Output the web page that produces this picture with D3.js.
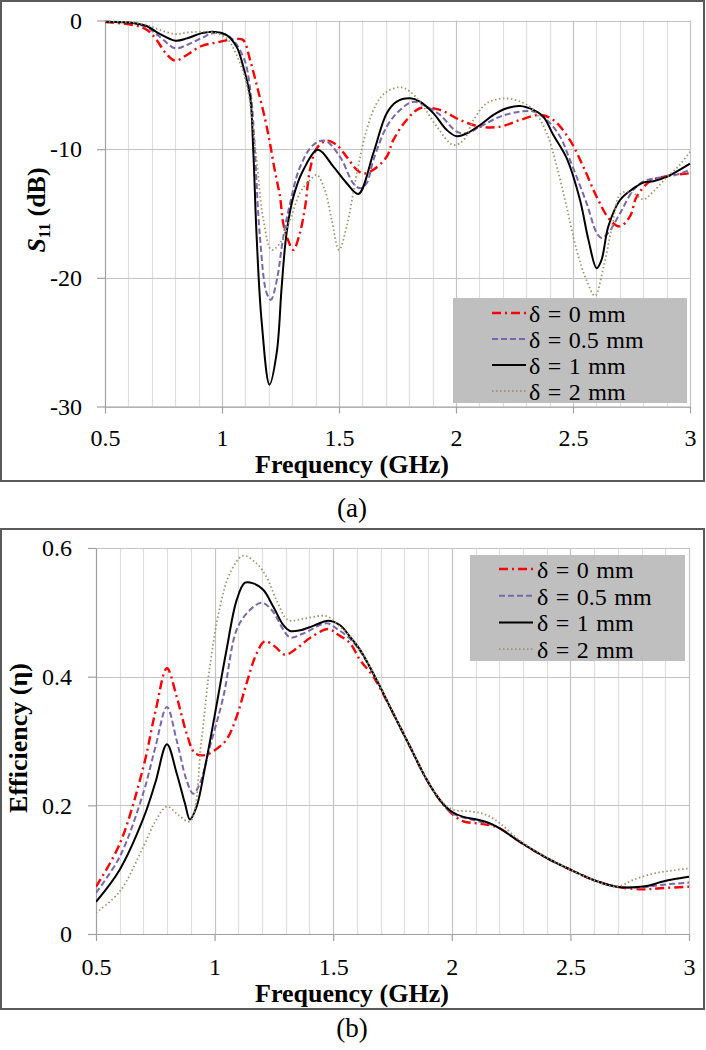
<!DOCTYPE html>
<html><head><meta charset="utf-8">
<script src="https://cdn.jsdelivr.net/npm/d3@7"></script>
<style>
body{margin:0;background:#fff}
svg{display:block}
svg text{font-family:'Liberation Serif','Tinos','Times New Roman','DejaVu Serif',serif !important;fill:#000}
</style>
</head><body>
<svg id="chart" width="706" height="1050"></svg>
<script>
// ---------- DATA ----------
const seriesLabels = ["δ = 0 mm", "δ = 0.5 mm", "δ = 1 mm", "δ = 2 mm"];
const xTickValues = [0.5, 1, 1.5, 2, 2.5, 3];
const xTickLabels = ["0.5", "1", "1.5", "2", "2.5", "3"];
const s11TickValues = [0, -10, -20, -30];
const s11TickLabels = ["0", "-10", "-20", "-30"];
const effTickValues = [0, 0.2, 0.4, 0.6];
const effTickLabels = ["0", "0.2", "0.4", "0.6"];

// (a) S11 (dB)
const s11Freq_d0 = [0.5,0.62,0.68,0.72,0.76,0.80,0.85,0.91,0.98,1.05,1.09,1.12,1.15,1.185,1.205,1.225,1.248,1.262,1.283,1.305,1.333,1.355,1.376,1.405,1.447,1.49,1.533,1.576,1.604,1.647,1.704,1.732,1.789,1.846,1.932,2.017,2.103,2.189,2.274,2.359,2.416,2.487,2.544,2.601,2.658,2.701,2.744,2.772,2.829,2.9,3.0];
const s11_d0 = [-0.12,-0.35,-0.74,-1.5,-2.55,-3.12,-2.68,-2.0,-1.7,-1.46,-1.52,-3.07,-5.14,-7.73,-9.55,-11.6,-13.7,-15.8,-17.1,-17.83,-16.5,-14.5,-11.6,-9.93,-9.34,-9.67,-10.6,-11.6,-11.9,-11.6,-10.58,-9.3,-7.73,-6.82,-6.95,-7.73,-8.25,-8.25,-7.73,-7.34,-7.73,-9.3,-11.36,-13.7,-15.5,-16.0,-15.2,-13.7,-12.5,-12.1,-11.87];

const s11Freq_d05 = [0.5,0.62,0.68,0.73,0.80,0.85,0.91,0.96,1.02,1.06,1.09,1.105,1.127,1.141,1.162,1.191,1.209,1.234,1.262,1.291,1.333,1.39,1.44,1.504,1.561,1.59,1.618,1.647,1.704,1.761,1.818,1.875,1.932,2.003,2.046,2.103,2.189,2.274,2.331,2.388,2.445,2.487,2.558,2.601,2.622,2.651,2.701,2.758,2.801,2.872,2.944,3.0];
const s11_d05 = [-0.1,-0.2,-0.55,-1.2,-2.16,-1.9,-1.39,-1.0,-1.13,-1.8,-2.8,-3.6,-6.4,-10.3,-16.8,-21.2,-21.7,-20.2,-16.8,-14.2,-11.4,-9.67,-9.34,-10.58,-12.65,-13.04,-12.65,-10.84,-8.25,-6.95,-6.31,-6.7,-7.34,-8.64,-8.77,-8.25,-7.47,-7.08,-7.08,-7.73,-9.03,-10.84,-14.2,-16.5,-16.9,-16.5,-14.98,-13.17,-12.5,-12.2,-11.98,-11.6];

const s11Freq_d1 = [0.5,0.62,0.68,0.73,0.80,0.85,0.91,0.96,1.02,1.062,1.091,1.12,1.134,1.148,1.169,1.203,1.234,1.255,1.276,1.305,1.348,1.41,1.476,1.533,1.583,1.647,1.704,1.747,1.804,1.846,1.903,1.96,2.003,2.046,2.103,2.16,2.217,2.274,2.331,2.373,2.416,2.473,2.53,2.566,2.601,2.622,2.651,2.701,2.758,2.801,2.843,2.9,3.0];
const s11_d1 = [-0.1,-0.2,-0.45,-1.0,-1.57,-1.39,-1.0,-0.87,-1.13,-2.03,-3.59,-5.9,-10.3,-16.8,-23.3,-28.3,-25.8,-20.7,-16.5,-13.7,-11.6,-10.05,-11.36,-12.65,-13.48,-10.3,-7.2,-6.3,-6.05,-6.3,-7.2,-8.5,-9.0,-8.77,-8.12,-7.34,-6.82,-6.64,-6.95,-7.47,-8.9,-10.7,-13.95,-17.05,-19.26,-18.6,-16.0,-13.95,-13.05,-12.6,-12.5,-12.16,-11.13];

const s11Freq_d2 = [0.5,0.62,0.68,0.73,0.80,0.85,0.91,0.96,1.02,1.062,1.1,1.12,1.148,1.177,1.212,1.248,1.291,1.333,1.376,1.405,1.44,1.469,1.5,1.533,1.576,1.618,1.661,1.704,1.761,1.804,1.861,1.918,1.989,2.032,2.075,2.131,2.203,2.274,2.331,2.388,2.431,2.473,2.516,2.558,2.594,2.63,2.666,2.701,2.73,2.765,2.801,2.843,2.9,2.957,3.0];
const s11_d2 = [-0.08,-0.15,-0.35,-0.7,-1.05,-0.94,-0.87,-0.92,-1.39,-2.68,-4.6,-6.44,-10.84,-15.5,-17.83,-17.3,-15.5,-13.4,-12.4,-12.0,-13.2,-15.5,-17.83,-16.0,-11.9,-8.5,-6.44,-5.53,-5.19,-5.53,-6.7,-8.25,-9.67,-9.3,-7.73,-6.44,-6.05,-6.3,-6.95,-8.77,-11.36,-14.5,-17.87,-20.2,-21.4,-19.2,-16.1,-13.5,-13.3,-13.5,-13.9,-13.3,-12.2,-11.2,-10.2];

// (b) Efficiency
const effFreq_d0 = [0.5,0.6,0.7,0.75,0.799,0.84,0.882,0.917,0.96,1.002,1.05,1.093,1.135,1.177,1.212,1.254,1.297,1.346,1.402,1.479,1.521,1.571,1.613,1.669,1.753,1.824,1.894,1.95,2.0,2.049,2.105,2.161,2.203,2.288,2.401,2.5,2.597,2.695,2.807,2.878,3.0];
const eff_d0 = [0.0735,0.14,0.26,0.345,0.413,0.369,0.312,0.281,0.278,0.286,0.302,0.338,0.39,0.436,0.455,0.447,0.434,0.444,0.46,0.474,0.465,0.452,0.426,0.40,0.343,0.291,0.24,0.208,0.187,0.175,0.172,0.169,0.164,0.143,0.118,0.1,0.084,0.0735,0.0694,0.0711,0.0736];

const effFreq_d05 = [0.5,0.6,0.7,0.75,0.799,0.84,0.882,0.91,0.938,0.98,1.037,1.093,1.142,1.198,1.24,1.29,1.318,1.374,1.472,1.521,1.571,1.613,1.683,1.753,1.824,1.894,1.95,2.0,2.105,2.161,2.203,2.288,2.401,2.5,2.597,2.695,2.807,2.878,3.0];
const eff_d05 = [0.064,0.12,0.22,0.29,0.353,0.301,0.239,0.218,0.234,0.291,0.369,0.473,0.501,0.515,0.504,0.473,0.461,0.467,0.483,0.473,0.459,0.44,0.395,0.343,0.291,0.24,0.208,0.188,0.176,0.171,0.164,0.143,0.118,0.1,0.084,0.0735,0.0725,0.0761,0.080];

const effFreq_d1 = [0.5,0.6,0.7,0.75,0.799,0.84,0.875,0.896,0.924,0.96,1.002,1.05,1.093,1.128,1.163,1.205,1.247,1.29,1.318,1.36,1.416,1.479,1.529,1.571,1.613,1.683,1.753,1.824,1.894,1.95,2.0,2.049,2.105,2.161,2.203,2.288,2.401,2.5,2.597,2.695,2.765,2.822,2.878,2.934,3.0];
const eff_d1 = [0.05,0.1,0.18,0.235,0.295,0.25,0.203,0.178,0.198,0.26,0.343,0.441,0.519,0.546,0.545,0.535,0.509,0.48,0.471,0.472,0.479,0.487,0.48,0.462,0.442,0.395,0.343,0.291,0.24,0.208,0.19,0.182,0.178,0.172,0.164,0.143,0.118,0.1,0.084,0.0735,0.0726,0.0745,0.0803,0.085,0.089];

const effFreq_d2 = [0.5,0.6,0.7,0.75,0.799,0.847,0.896,0.945,0.98,1.023,1.065,1.12,1.177,1.219,1.261,1.31,1.374,1.472,1.521,1.571,1.613,1.683,1.753,1.824,1.894,1.95,2.0,2.091,2.147,2.203,2.288,2.401,2.5,2.597,2.695,2.765,2.85,2.934,3.0];
const eff_d2 = [0.033,0.066,0.136,0.175,0.198,0.185,0.175,0.302,0.416,0.509,0.561,0.588,0.576,0.555,0.519,0.488,0.49,0.494,0.48,0.463,0.443,0.396,0.344,0.292,0.241,0.21,0.194,0.19,0.185,0.172,0.145,0.119,0.1,0.084,0.0735,0.084,0.094,0.099,0.102];

// ---------- STYLES ----------
const FONT = "'Liberation Serif','Tinos','Times New Roman','DejaVu Serif',serif";
const lineStyles = [
  {color:"#ff0000", width:2.4, dash:"9,4,2,4"},
  {color:"#7b66ad", width:2.0, dash:"6,3"},
  {color:"#000000", width:2.0, dash:null},
  {color:"#9c986c", width:1.8, dash:"1.5,2.5"}
];

const svg = d3.select("#chart");

function zip(xs, ys){ return xs.map((f,i)=>({f:f, v:ys[i]})); }

function drawPanel(cfg){
  const g = svg.append("g").attr("font-family", FONT);
  const x = d3.scaleLinear().domain([0.5,3]).range([cfg.x0, cfg.x1]);
  const y = d3.scaleLinear().domain(cfg.yDomain).range([cfg.yBottom, cfg.yTop]);

  g.append("rect").attr("x",cfg.box[0]).attr("y",cfg.box[1]).attr("width",cfg.box[2]).attr("height",cfg.box[3])
    .attr("fill","none").attr("stroke","#5a5a5a").attr("stroke-width",2);

  const vgrid = d3.range(6, 31).map(d => d/10);
  g.append("g").selectAll("line").data(vgrid).join("line")
    .attr("x1", d => Math.round(x(d))+0.5).attr("x2", d => Math.round(x(d))+0.5)
    .attr("y1", cfg.yTop).attr("y2", cfg.yBottom)
    .attr("stroke", d => (Math.abs(d*2 - Math.round(d*2)) < 1e-6) ? "#c4c4c4" : "#dedede")
    .attr("stroke-width", 1.2);
  g.append("g").selectAll("line").data(cfg.yTicks).join("line")
    .attr("x1", cfg.x0).attr("x2", cfg.x1)
    .attr("y1", d => Math.round(y(d))+0.5).attr("y2", d => Math.round(y(d))+0.5)
    .attr("stroke", "#c4c4c4").attr("stroke-width", 1.2);

  const yAxis = d3.axisLeft(y).tickValues(cfg.yTicks).tickSizeInner(8).tickSizeOuter(0)
    .tickPadding(cfg.yPad).tickFormat((d,i) => cfg.yLabels[i]);
  const ya = g.append("g").attr("transform", `translate(${cfg.x0},0)`).call(yAxis);
  const xAxis = d3.axisBottom(x).tickValues(xTickValues).tickSizeInner(7).tickSizeOuter(0)
    .tickPadding(cfg.xPad).tickFormat((d,i) => xTickLabels[i]);
  const xa = g.append("g").attr("transform", `translate(0,${cfg.yBottom})`).call(xAxis);
  [ya, xa].forEach(a => {
    a.attr("font-family", FONT).attr("font-size", 24);
    a.select(".domain").attr("stroke", "#a0a0a0").attr("stroke-width", 1.2);
    a.selectAll(".tick line").attr("stroke", "#a0a0a0").attr("stroke-width", 1.2);
    a.selectAll(".tick text").attr("fill","#000");
  });

  const line = d3.line().x(d => x(d.f)).y(d => y(d.v)).curve(d3.curveCatmullRom.alpha(0.5));
  const clipId = "clip" + cfg.id;
  g.append("clipPath").attr("id", clipId).append("rect")
    .attr("x", cfg.x0).attr("y", cfg.yTop - 3).attr("width", cfg.x1 - cfg.x0 + 2).attr("height", cfg.yBottom - cfg.yTop + 6);
  const sg = g.append("g").attr("clip-path", `url(#${clipId})`);
  cfg.series.forEach((s, i) => {
    const st = lineStyles[i];
    sg.append("path").datum(s).attr("d", line)
      .attr("fill","none").attr("stroke", st.color).attr("stroke-width", st.width)
      .attr("stroke-dasharray", st.dash).attr("stroke-linejoin","round");
  });

  g.append("text").attr("x", cfg.xTitleX).attr("y", cfg.xTitleY).attr("text-anchor","middle")
    .attr("font-size", 26).attr("font-weight","bold").text("Frequency (GHz)");
  const yt = g.append("text").attr("transform", `translate(${cfg.yTitleX},${cfg.yTitleY}) rotate(-90)`)
    .attr("text-anchor","middle").attr("font-size", 26).attr("font-weight","bold");
  cfg.yTitle(yt);

  const L = cfg.legend;
  g.append("rect").attr("x", L.x).attr("y", L.y).attr("width", L.w).attr("height", L.h).attr("fill", "#bfbfbf");
  seriesLabels.forEach((lab, i) => {
    const st = lineStyles[i];
    const by = L.firstBaseline + i * L.step;
    g.append("line").attr("x1", L.lx0).attr("x2", L.lx1).attr("y1", by - 9).attr("y2", by - 9)
      .attr("stroke", st.color).attr("stroke-width", st.width).attr("stroke-dasharray", st.dash);
    g.append("text").attr("x", L.tx).attr("y", by).attr("font-size", 24).attr("word-spacing", 1.5).text(lab);
  });

  g.append("text").attr("x", 352).attr("y", cfg.captionY).attr("text-anchor","middle").attr("font-size", 27).text(cfg.caption);
}

drawPanel({
  id: "a",
  box: [1, 1, 703, 480],
  x0: 105, x1: 690, yTop: 20.5, yBottom: 406.5,
  yDomain: [-30, 0], yTicks: s11TickValues, yLabels: s11TickLabels,
  yPad: 15, xPad: 15,
  series: [zip(s11Freq_d0, s11_d0), zip(s11Freq_d05, s11_d05), zip(s11Freq_d1, s11_d1), zip(s11Freq_d2, s11_d2)],
  xTitleX: 352, xTitleY: 473,
  yTitleX: 45, yTitleY: 210,
  yTitle: t => {
    t.append("tspan").attr("font-style","italic").text("S");
    t.append("tspan").attr("font-size", 16).attr("dy", 5).text("11");
    t.append("tspan").attr("dy", -5).text(" (dB)");
  },
  legend: {x: 453, y: 298, w: 234, h: 105, firstBaseline: 322, step: 26, lx0: 492, lx1: 526, tx: 529},
  caption: "(a)", captionY: 517
});

drawPanel({
  id: "b",
  box: [1, 529, 703, 480],
  x0: 96, x1: 689, yTop: 548, yBottom: 934,
  yDomain: [0, 0.6], yTicks: effTickValues, yLabels: effTickLabels,
  yPad: 16, xPad: 17,
  series: [zip(effFreq_d0, eff_d0), zip(effFreq_d05, eff_d05), zip(effFreq_d1, eff_d1), zip(effFreq_d2, eff_d2)],
  xTitleX: 352, xTitleY: 1002,
  yTitleX: 27, yTitleY: 738,
  yTitle: t => { t.text("Efficiency (η)"); },
  legend: {x: 470, y: 555, w: 215, h: 106, firstBaseline: 578, step: 26.7, lx0: 499, lx1: 533, tx: 537},
  caption: "(b)", captionY: 1037
});
</script>
</body></html>
